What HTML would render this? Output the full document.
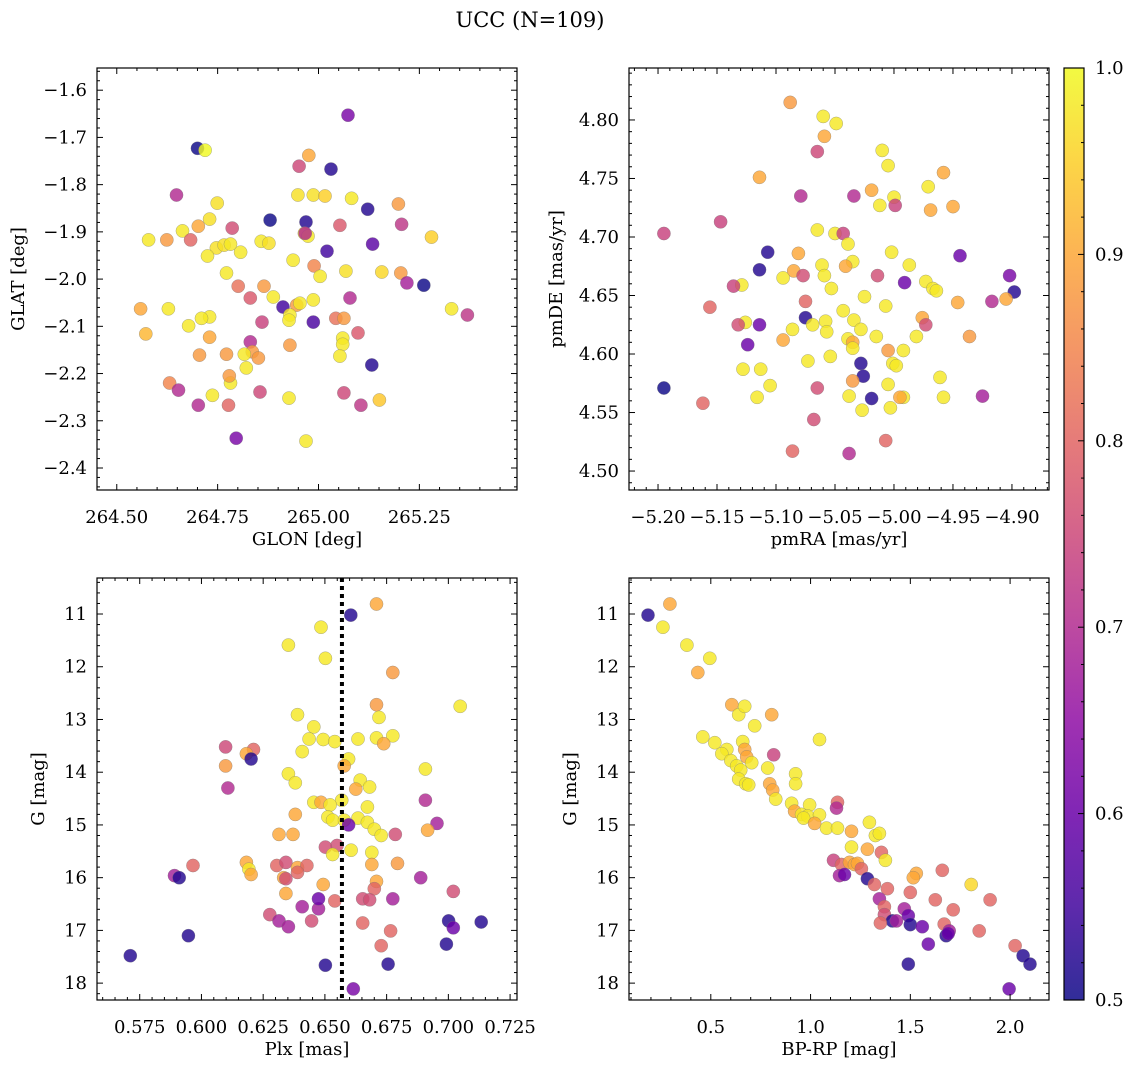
<!DOCTYPE html>
<html><head><meta charset="utf-8"><style>
html,body{margin:0;padding:0;background:#fff;}
svg{display:block;font-family:"DejaVu Serif","Liberation Serif",serif;}
</style></head><body>
<svg id="fig" width="1136" height="1067" viewBox="0 0 1136 1067" xmlns="http://www.w3.org/2000/svg">
<text x="530" y="27" font-size="21" text-anchor="middle" fill="#000">UCC (N=109)</text>
</svg>
<script>
// ---- Panel 1: GLON / GLAT ----
const glon = [265.073,264.700,264.719,265.031,264.952,264.976,264.749,264.648,264.949,264.987,265.016,265.082,265.198,265.122,264.880,264.969,265.053,265.206,264.702,264.730,264.786,264.965,264.974,264.967,264.663,264.624,264.683,264.579,264.858,264.877,265.280,265.134,264.747,264.766,264.782,264.725,264.807,265.021,264.937,264.989,265.068,265.157,265.204,264.772,265.004,264.865,265.219,265.261,264.801,264.831,264.888,264.912,264.628,264.946,264.954,264.987,265.078,264.559,265.330,265.369,264.730,264.710,264.929,264.927,264.860,265.043,265.063,264.987,264.678,265.098,264.730,265.060,265.060,264.929,264.831,264.572,264.836,264.772,264.705,264.816,264.851,265.053,264.821,265.132,264.631,264.782,264.779,264.653,264.855,264.737,265.063,264.777,264.702,265.151,264.927,265.105,264.796,264.969];
const glat = [-1.653,-1.723,-1.727,-1.767,-1.761,-1.738,-1.839,-1.822,-1.822,-1.822,-1.824,-1.829,-1.841,-1.852,-1.875,-1.879,-1.886,-1.884,-1.888,-1.873,-1.892,-1.903,-1.909,-1.903,-1.898,-1.917,-1.917,-1.917,-1.920,-1.924,-1.911,-1.926,-1.934,-1.928,-1.926,-1.951,-1.943,-1.941,-1.960,-1.972,-1.983,-1.985,-1.987,-1.987,-1.994,-2.015,-2.008,-2.013,-2.015,-2.040,-2.038,-2.059,-2.063,-2.055,-2.051,-2.044,-2.040,-2.063,-2.063,-2.076,-2.080,-2.083,-2.076,-2.087,-2.091,-2.083,-2.083,-2.091,-2.099,-2.114,-2.123,-2.125,-2.138,-2.140,-2.133,-2.116,-2.154,-2.159,-2.161,-2.159,-2.167,-2.163,-2.188,-2.182,-2.220,-2.220,-2.205,-2.235,-2.239,-2.246,-2.241,-2.267,-2.267,-2.256,-2.252,-2.267,-2.337,-2.343];
const prob1 = [0.62,0.5,1.0,0.52,0.75,0.9,0.97,0.7,0.97,0.97,0.95,0.98,0.88,0.52,0.5,0.52,0.78,0.72,0.9,0.97,0.76,0.95,0.98,0.7,0.98,0.88,0.8,0.98,0.98,0.97,0.95,0.58,0.97,0.97,0.98,0.98,0.98,0.55,0.98,0.85,0.97,0.96,0.88,0.98,0.98,0.88,0.68,0.5,0.82,0.78,0.98,0.55,0.98,0.88,0.98,0.98,0.7,0.9,0.98,0.72,0.98,0.98,0.98,0.98,0.74,0.82,0.88,0.56,0.98,0.78,0.9,0.98,0.98,0.88,0.7,0.92,0.88,0.88,0.88,0.98,0.88,0.98,0.98,0.52,0.85,0.98,0.88,0.7,0.75,0.98,0.75,0.8,0.7,0.94,0.98,0.72,0.62,0.98];

// ---- Panel 2: pmRA / pmDE ----
const pmra = [-5.088,-5.060,-5.049,-5.059,-5.065,-5.010,-5.005,-5.114,-4.958,-4.971,-5.019,-5.079,-5.034,-5.000,-5.012,-4.999,-4.950,-4.969,-5.147,-5.195,-5.065,-5.050,-5.043,-5.039,-5.002,-5.107,-5.081,-4.944,-5.035,-4.987,-5.061,-5.041,-5.114,-5.085,-5.077,-5.094,-5.059,-5.014,-4.902,-4.973,-4.991,-4.967,-4.964,-5.053,-5.129,-5.136,-4.898,-5.025,-5.075,-4.946,-4.917,-4.905,-5.156,-5.007,-5.043,-4.976,-5.075,-5.058,-5.034,-4.973,-5.069,-5.126,-5.132,-5.114,-5.086,-5.057,-5.028,-5.015,-4.981,-5.039,-4.936,-5.035,-5.094,-5.124,-5.005,-4.992,-5.073,-5.035,-5.054,-5.028,-5.001,-4.998,-5.128,-5.113,-4.961,-5.026,-5.035,-5.005,-5.195,-5.105,-5.065,-4.992,-4.995,-4.958,-5.019,-5.116,-5.038,-4.925,-5.162,-5.003,-5.027,-5.068,-5.007,-5.086,-5.038];
const pmde = [4.815,4.803,4.797,4.786,4.773,4.774,4.761,4.751,4.755,4.743,4.740,4.735,4.735,4.734,4.727,4.727,4.726,4.723,4.713,4.703,4.706,4.703,4.703,4.694,4.687,4.687,4.686,4.684,4.679,4.676,4.676,4.675,4.672,4.671,4.667,4.665,4.667,4.667,4.667,4.662,4.661,4.656,4.654,4.656,4.659,4.658,4.653,4.649,4.645,4.644,4.645,4.647,4.640,4.641,4.637,4.631,4.631,4.628,4.629,4.625,4.625,4.627,4.625,4.625,4.621,4.619,4.621,4.615,4.615,4.613,4.615,4.610,4.612,4.608,4.603,4.603,4.594,4.605,4.598,4.592,4.592,4.590,4.587,4.587,4.580,4.581,4.577,4.574,4.571,4.573,4.571,4.563,4.563,4.563,4.562,4.563,4.564,4.564,4.558,4.554,4.552,4.544,4.526,4.517,4.515];
const prob2 = [0.88,0.98,0.98,0.9,0.75,0.98,0.98,0.9,0.9,0.98,0.9,0.7,0.7,0.98,0.98,0.74,0.9,0.9,0.74,0.74,0.98,0.98,0.74,0.98,0.98,0.52,0.9,0.6,0.98,0.98,0.98,0.9,0.52,0.9,0.76,0.98,0.98,0.76,0.62,0.98,0.6,0.98,0.98,0.98,0.98,0.74,0.52,0.98,0.8,0.9,0.7,0.9,0.8,0.98,0.98,0.9,0.52,0.98,0.98,0.76,0.98,0.98,0.76,0.6,0.98,0.98,0.98,0.98,0.98,0.98,0.88,0.9,0.9,0.6,0.88,0.98,0.98,0.98,0.98,0.52,0.98,0.98,0.98,0.98,0.98,0.52,0.88,0.98,0.5,0.98,0.76,0.98,0.9,0.98,0.52,0.98,0.98,0.68,0.8,0.98,0.98,0.76,0.8,0.8,0.7];

// ---- Panel 3: Plx / G ----
const plx = [0.6605,0.6709,0.6484,0.6352,0.6502,0.6775,0.7048,0.6709,0.6389,0.6719,0.6455,0.6493,0.6540,0.6634,0.6709,0.6775,0.6738,0.6436,0.6098,0.6408,0.6211,0.6182,0.6201,0.6596,0.6578,0.6098,0.6907,0.6352,0.6643,0.6107,0.6380,0.6681,0.6625,0.6568,0.6455,0.6484,0.6521,0.6672,0.6907,0.6380,0.6512,0.6634,0.6578,0.6531,0.6596,0.6672,0.6700,0.6954,0.6916,0.6314,0.6371,0.6728,0.6785,0.6549,0.6606,0.6502,0.6531,0.6690,0.5966,0.6182,0.6192,0.6305,0.6342,0.6389,0.6427,0.6794,0.6690,0.6201,0.5891,0.5910,0.6333,0.6389,0.6342,0.6888,0.6493,0.6709,0.6700,0.7020,0.6342,0.6653,0.6681,0.6775,0.6540,0.6408,0.6474,0.6474,0.6277,0.6314,0.6446,0.6352,0.6653,0.7001,0.7133,0.7020,0.5947,0.6728,0.6992,0.6766,0.5712,0.6502,0.6756,0.6615];
const gmag1 = [11.02,10.81,11.25,11.59,11.84,12.11,12.75,12.72,12.91,12.96,13.14,13.38,13.42,13.37,13.35,13.31,13.46,13.37,13.52,13.61,13.57,13.65,13.75,13.75,13.88,13.88,13.94,14.03,14.15,14.30,14.20,14.28,14.32,14.53,14.57,14.57,14.62,14.66,14.53,14.80,14.85,14.87,14.91,14.91,15.00,14.95,15.08,14.97,15.10,15.18,15.18,15.20,15.18,15.39,15.48,15.42,15.56,15.52,15.77,15.71,15.84,15.77,15.71,15.81,15.77,15.73,15.75,15.94,15.96,16.00,16.00,15.90,16.02,16.00,16.13,16.07,16.21,16.26,16.30,16.40,16.42,16.40,16.44,16.55,16.59,16.40,16.70,16.82,16.82,16.93,16.86,16.82,16.84,16.95,17.10,17.29,17.26,17.01,17.48,17.66,17.64,18.11];
const prob3 = [0.52,0.9,0.98,0.98,0.98,0.88,0.98,0.88,0.98,0.98,0.98,0.98,0.98,0.98,0.98,0.98,0.9,0.98,0.75,0.98,0.8,0.9,0.52,0.98,0.9,0.88,0.98,0.98,0.98,0.7,0.98,0.98,0.9,0.98,0.98,0.9,0.98,0.98,0.7,0.9,0.98,0.98,0.98,0.98,0.6,0.98,0.98,0.68,0.9,0.9,0.9,0.98,0.76,0.76,0.98,0.76,0.98,0.98,0.8,0.9,0.98,0.8,0.76,0.9,0.8,0.88,0.9,0.9,0.68,0.52,0.9,0.8,0.76,0.68,0.9,0.9,0.8,0.76,0.9,0.76,0.76,0.68,0.8,0.68,0.68,0.6,0.76,0.68,0.76,0.68,0.8,0.52,0.52,0.6,0.52,0.8,0.52,0.8,0.52,0.52,0.52,0.62];

// ---- Panel 4: BP-RP / G ----
const bprp = [0.185,0.295,0.260,0.380,0.495,0.435,0.605,0.640,0.670,0.805,0.720,0.460,0.520,0.580,0.660,0.670,0.555,1.045,0.680,0.815,0.600,0.630,0.705,0.785,0.650,0.640,0.795,0.925,0.675,0.690,0.925,0.810,0.825,0.905,0.995,1.135,0.920,0.955,0.985,0.965,1.045,1.130,1.020,1.080,1.135,1.205,1.295,1.325,1.345,1.205,1.285,1.355,1.375,1.115,1.155,1.195,1.220,1.235,1.145,1.255,1.170,1.285,1.320,1.530,1.515,1.660,1.805,1.385,1.500,1.345,1.625,1.900,1.370,1.715,1.470,1.370,1.410,1.430,1.350,1.490,1.500,1.560,1.670,1.695,1.845,1.680,1.690,1.590,2.025,2.065,2.100,1.490,1.995];
const gmag2 = [11.02,10.81,11.25,11.59,11.84,12.11,12.72,12.91,12.75,12.91,13.12,13.33,13.44,13.57,13.42,13.57,13.65,13.38,13.71,13.67,13.78,13.88,13.82,13.92,13.96,14.13,14.22,14.03,14.22,14.24,14.22,14.34,14.51,14.59,14.62,14.57,14.74,14.80,14.83,14.87,14.81,14.68,14.97,15.06,15.06,15.12,14.95,15.20,15.16,15.42,15.46,15.52,15.67,15.67,15.75,15.71,15.75,15.73,15.96,15.83,15.94,16.02,16.13,15.92,16.00,15.86,16.13,16.21,16.28,16.40,16.42,16.42,16.55,16.61,16.59,16.70,16.82,16.82,16.86,16.72,16.89,16.93,16.88,17.01,17.01,17.10,17.06,17.26,17.29,17.48,17.64,17.64,18.11];
const prob4 = [0.52,0.9,0.98,0.98,0.98,0.9,0.9,0.98,0.98,0.9,0.98,0.98,0.98,0.98,0.98,0.9,0.98,0.98,0.9,0.74,0.98,0.98,0.98,0.98,0.98,0.98,0.9,0.98,0.98,0.98,0.98,0.9,0.98,0.98,0.98,0.8,0.9,0.98,0.98,0.98,0.98,0.7,0.9,0.98,0.98,0.9,0.98,0.98,0.98,0.98,0.9,0.8,0.98,0.74,0.8,0.9,0.9,0.9,0.68,0.8,0.6,0.52,0.8,0.9,0.9,0.8,0.96,0.8,0.8,0.68,0.8,0.8,0.8,0.8,0.68,0.76,0.52,0.68,0.8,0.6,0.52,0.6,0.8,0.68,0.8,0.52,0.6,0.6,0.8,0.52,0.52,0.52,0.6];

const plxLine = 0.6569;
const cbTicks = [0.5,0.6,0.7,0.8,0.9,1.0];

const NS = "http://www.w3.org/2000/svg";
const svg = document.getElementById('fig');
function mk(tag, attrs, parent){
  const e = document.createElementNS(NS, tag);
  for (const k in attrs) e.setAttribute(k, attrs[k]);
  (parent||svg).appendChild(e);
  return e;
}
const plasma = [[0,13,8,135],[0.1,65,4,157],[0.2,106,0,168],[0.3,143,13,164],[0.4,177,42,144],[0.5,204,71,120],[0.6,225,100,98],[0.7,242,132,75],[0.8,252,166,54],[0.9,252,206,37],[1.0,240,249,33]];
function cmap(v){
  let t = Math.max(0, Math.min(1, (v-0.5)/0.5));
  for (let i=1;i<plasma.length;i++){
    if (t <= plasma[i][0]){
      const a=plasma[i-1], b=plasma[i], f=(t-a[0])/(b[0]-a[0]);
      return `rgb(${Math.round(a[1]+f*(b[1]-a[1]))},${Math.round(a[2]+f*(b[2]-a[2]))},${Math.round(a[3]+f*(b[3]-a[3]))})`;
    }
  }
  return 'rgb(240,249,33)';
}
function fmt(v, d){ const s = Math.abs(v).toFixed(d); return (v < -1e-9 ? '\u2212' : '') + s; }
const FS = 18;

function panel(cfg){
  const {name, L, T, W, H, xlim, ylim, invY, xmaj, xmin, ymaj, ymin, xd, yd, xlab, ylab, xs, ys, ps} = cfg;
  const g = mk('g', {});
  
  
  const X = v => L + (v - xlim[0])/(xlim[1]-xlim[0])*W;
  const Y = v => invY ? T + (v - ylim[0])/(ylim[1]-ylim[0])*H : T + H - (v - ylim[0])/(ylim[1]-ylim[0])*H;
  const pg = mk('g', {}, g);
  
  
  for (let i=0;i<xs.length;i++){
    const c = mk('circle', {cx:X(xs[i]).toFixed(1), cy:Y(ys[i]).toFixed(1), r:6.6, fill:cmap(ps[i]), 'fill-opacity':0.82, stroke:'#777', 'stroke-width':0.5, 'stroke-opacity':0.6}, pg);
    
    
  }
  if (cfg.vline !== undefined){
    const l = mk('line', {x1:X(cfg.vline), x2:X(cfg.vline), y1:T, y2:T+H, stroke:'#000', 'stroke-width':4, 'stroke-dasharray':'4 4'}, g);
    
    
  }
  const fr = mk('rect', {x:L, y:T, width:W, height:H, fill:'none', stroke:'#000', 'stroke-width':1.2}, g);
  
  
  const tg = mk('g', {stroke:'#000', 'stroke-width':1}, g);
  
  
  const lo = Math.min(xlim[0],xlim[1]), hi = Math.max(xlim[0],xlim[1]);
  for (let v = Math.ceil(lo/xmin-1e-6)*xmin; v <= hi+1e-9; v += xmin){
    const isMaj = Math.abs(v/xmaj - Math.round(v/xmaj)) < 1e-4;
    const len = isMaj ? 6 : 3, x = X(v);
    mk('line', {x1:x, x2:x, y1:T+H, y2:T+H-len}, tg);
    mk('line', {x1:x, x2:x, y1:T, y2:T+len}, tg);
    if (isMaj && x > L+2 && x < L+W-2){
      const t = mk('text', {x:x, y:T+H+33, 'font-size':FS, 'text-anchor':'middle', fill:'#000', stroke:'none'}, g);
      t.textContent = fmt(v, xd);
      
      
    }
  }
  const ylo = Math.min(ylim[0],ylim[1]), yhi = Math.max(ylim[0],ylim[1]);
  for (let v = Math.ceil(ylo/ymin-1e-6)*ymin; v <= yhi+1e-9; v += ymin){
    const isMaj = Math.abs(v/ymaj - Math.round(v/ymaj)) < 1e-4;
    const len = isMaj ? 6 : 3, y = Y(v);
    mk('line', {x1:L, x2:L+len, y1:y, y2:y}, tg);
    mk('line', {x1:L+W, x2:L+W-len, y1:y, y2:y}, tg);
    if (isMaj && y > T+2 && y < T+H-2){
      const t = mk('text', {x:L-10, y:y+6, 'font-size':FS, 'text-anchor':'end', fill:'#000', stroke:'none'}, g);
      t.textContent = fmt(v, yd);
      
      
    }
  }
  const xt = mk('text', {x:L+W/2, y:T+H+55, 'font-size':FS, 'text-anchor':'middle', fill:'#000'}, g);
  xt.textContent = xlab;
  
  
  const yx = cfg.ylx, yy = T+H/2;
  const yt = mk('text', {x:yx, y:yy, 'font-size':FS, 'text-anchor':'middle', fill:'#000', transform:`rotate(-90 ${yx} ${yy})`}, g);
  yt.textContent = ylab;
  
  
}

panel({name:'glon-glat-panel', L:97, T:68, W:420, H:422, xlim:[264.451,265.492], ylim:[-2.4466,-1.553], invY:false,
  xmaj:0.25, xmin:0.05, ymaj:0.1, ymin:0.02, xd:2, yd:1, xlab:'GLON [deg]', ylab:'GLAT [deg]', ylx:24, xs:glon, ys:glat, ps:prob1});
panel({name:'pm-panel', L:629, T:68, W:420, H:422, xlim:[-5.2246,-4.8686], ylim:[4.4838,4.8444], invY:false,
  xmaj:0.05, xmin:0.01, ymaj:0.05, ymin:0.01, xd:2, yd:2, xlab:'pmRA [mas/yr]', ylab:'pmDE [mas/yr]', ylx:562, xs:pmra, ys:pmde, ps:prob2});
panel({name:'plx-g-panel', L:97, T:578, W:420, H:422, xlim:[0.5577,0.7278], ylim:[10.317,18.32], invY:true,
  xmaj:0.025, xmin:0.005, ymaj:1, ymin:0.2, xd:3, yd:0, xlab:'Plx [mas]', ylab:'G [mag]', ylx:44, xs:plx, ys:gmag1, ps:prob3, vline:plxLine});
panel({name:'cmd-panel', L:629, T:578, W:420, H:422, xlim:[0.09,2.195], ylim:[10.317,18.32], invY:true,
  xmaj:0.5, xmin:0.1, ymaj:1, ymin:0.2, xd:1, yd:0, xlab:'BP-RP [mag]', ylab:'G [mag]', ylx:576, xs:bprp, ys:gmag2, ps:prob4});

(function(){
  const L=1064, T=68, W=20, H=932;
  const cg = mk('g', {});
  
  
  const defs = mk('defs', {}, cg);
  const gr = mk('linearGradient', {id:'cbg', x1:0, y1:1, x2:0, y2:0}, defs);
  plasma.forEach(p => mk('stop', {offset:p[0], 'stop-color':`rgb(${p[1]},${p[2]},${p[3]})`, 'stop-opacity':0.85}, gr));
  const r = mk('rect', {x:L, y:T, width:W, height:H, fill:'url(#cbg)', stroke:'#000', 'stroke-width':1.2}, cg);
  
  
  const Yc = v => T + H - (v-0.5)/0.5*H;
  for (let v=0.5; v<=1.0001; v+=0.02){
    const isMaj = Math.abs(v*10 - Math.round(v*10)) < 1e-4;
    const y = Yc(v), len = isMaj?6:3;
    mk('line', {x1:L+W, x2:L+W-len, y1:y, y2:y, stroke:'#000', 'stroke-width':1}, cg);
  }
  cbTicks.forEach(v => {
    const t = mk('text', {x:L+W+11, y:Yc(v)+6, 'font-size':FS, fill:'#000'}, cg);
    t.textContent = v.toFixed(1);
    
    
  });
})();
</script>
</body></html>
